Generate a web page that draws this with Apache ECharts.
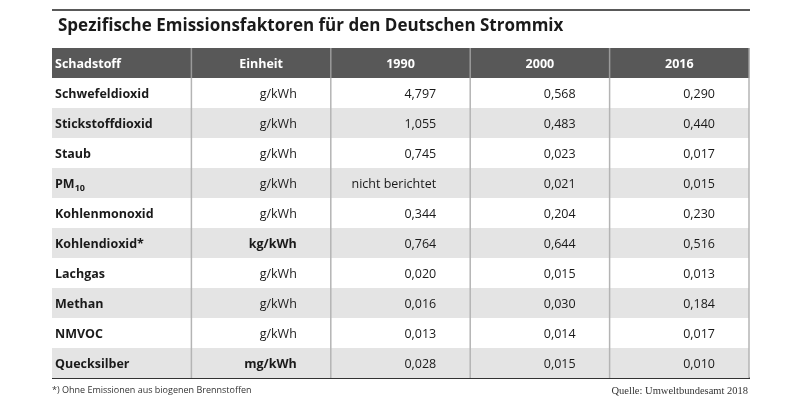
<!DOCTYPE html>
<html><head><meta charset="utf-8">
<script src="https://cdn.jsdelivr.net/npm/echarts@6/dist/echarts.min.js"></script>
<style>html,body{margin:0;padding:0;background:#fff}#c{width:800px;height:400px}</style>
</head><body><div id="c"></div>
<script>
const title = 'Spezifische Emissionsfaktoren für den Deutschen Strommix';
const headers = ['Schadstoff', 'Einheit', '1990', '2000', '2016'];
const schadstoffe = ['Schwefeldioxid', 'Stickstoffdioxid', 'Staub', 'PM{sub|10}', 'Kohlenmonoxid', 'Kohlendioxid*', 'Lachgas', 'Methan', 'NMVOC', 'Quecksilber'];
const einheiten = ['g/kWh', 'g/kWh', 'g/kWh', 'g/kWh', 'g/kWh', 'kg/kWh', 'g/kWh', 'g/kWh', 'g/kWh', 'mg/kWh'];
const v1990 = [4.797, 1.055, 0.745, null, 0.344, 0.764, 0.020, 0.016, 0.013, 0.028];
const v2000 = [0.568, 0.483, 0.023, 0.021, 0.204, 0.644, 0.015, 0.030, 0.014, 0.015];
const v2016 = [0.290, 0.440, 0.017, 0.015, 0.230, 0.516, 0.013, 0.184, 0.017, 0.010];
const fussnote = '*) Ohne Emissionen aus biogenen Brennstoffen';
const quelle = 'Quelle: Umweltbundesamt 2018';

const FONT = '"Open Sans", "Noto Sans", sans-serif';
function fmt(v) { return v == null ? 'nicht berichtet' : v.toFixed(3).replace('.', ','); }

const rowCats = ['head'].concat(schadstoffe.map((s, i) => 'r' + i));
const cells = [];
for (let c = 0; c < 5; c++) {
  cells.push([c, 0, headers[c]]);
}
for (let r = 0; r < schadstoffe.length; r++) {
  const texts = [schadstoffe[r], einheiten[r], fmt(v1990[r]), fmt(v2000[r]), fmt(v2016[r])];
  for (let c = 0; c < 5; c++) cells.push([c, r + 1, texts[c]]);
}

const chart = echarts.init(document.getElementById('c'), null, { renderer: 'canvas' });
chart.setOption({
  animation: false,
  title: {
    text: title, left: 53, top: 13,
    textStyle: { fontFamily: FONT, fontWeight: 'bold', fontSize: 17, color: '#1a1a1a' }
  },
  grid: { left: 52, right: 51, top: 48, bottom: 22 },
  xAxis: { type: 'category', data: headers, show: false },
  yAxis: { type: 'category', data: rowCats, inverse: true, show: false },
  series: [{
    type: 'custom',
    data: cells,
    encode: { x: 0, y: 1 },
    renderItem: function (params, api) {
      const c = api.value(0), r = api.value(1);
      const text = cells[params.dataIndex][2];
      const center = api.coord([c, r]);
      const size = api.size([1, 1]);
      const x0 = center[0] - size[0] / 2, y0 = center[1] - size[1] / 2;
      const w = size[0], h = size[1];
      const header = r === 0;
      const fill = header ? '#585858' : (r % 2 === 0 ? '#e4e4e4' : '#ffffff');
      const children = [{
        type: 'rect', shape: { x: x0, y: y0, width: w, height: h },
        style: { fill: fill }
      }];
      const lineColor = header ? '#9a9a9a' : '#b4b4b4';
      if (c > 0) children.push({ type: 'line', shape: { x1: x0, y1: y0, x2: x0, y2: y0 + h }, style: { stroke: lineColor, lineWidth: 1.5 } });
      if (c === 4) children.push({ type: 'line', shape: { x1: x0 + w, y1: y0, x2: x0 + w, y2: y0 + h }, style: { stroke: lineColor, lineWidth: 1.5 } });
      const bold = header || c === 0 || (c === 1 && (text === 'kg/kWh' || text === 'mg/kWh'));
      let tx, align;
      if (c === 0) { tx = x0 + 3; align = 'left'; }
      else if (header) { tx = x0 + w / 2; align = 'center'; }
      else { tx = x0 + w - 34; align = 'right'; }
      children.push({
        type: 'text',
        style: {
          x: tx, y: y0 + h / 2 + 1, text: text, align: align, verticalAlign: 'middle',
          fontFamily: FONT, fontSize: 12.5, fontWeight: bold ? 'bold' : 'normal',
          fill: header ? '#ffffff' : '#1a1a1a',
          rich: { sub: { fontSize: 9, fontWeight: 'bold', fontFamily: FONT, padding: [8, 0, 0, 0], fill: '#1a1a1a' } }
        }
      });
      return { type: 'group', children: children };
    }
  }],
  graphic: [
    { type: 'line', shape: { x1: 52, y1: 10, x2: 750, y2: 10 }, style: { stroke: '#222', lineWidth: 1.5 } },
    { type: 'line', shape: { x1: 52, y1: 378, x2: 750, y2: 378 }, style: { stroke: '#333', lineWidth: 2 } },
    { type: 'text', left: 52, top: 386, style: { text: fussnote, fontFamily: FONT, fontSize: 9, fill: '#333' } },
    { type: 'text', right: 52, top: 386, style: { text: quelle, fontFamily: '"Liberation Serif", "DejaVu Serif", serif', fontSize: 10.5, fill: '#333' } }
  ]
});
</script></body></html>
